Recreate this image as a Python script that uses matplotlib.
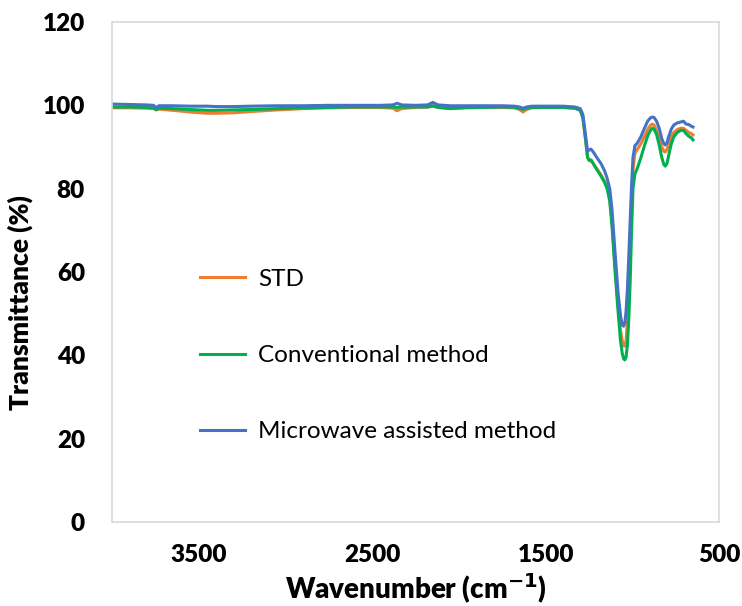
import matplotlib.pyplot as plt

# wavenumber (cm-1) and transmittance (%)
wavenumber = [4000, 3900, 3800, 3760, 3746, 3730, 3650, 3550, 3450, 3400,
              3300, 3200, 3050, 2900, 2750, 2600, 2450, 2380, 2357, 2330,
              2250, 2180, 2150, 2120, 2050, 1950, 1850, 1750, 1680, 1650,
              1630, 1610, 1580, 1500, 1400, 1330, 1300, 1285, 1270, 1258,
              1248, 1238, 1225, 1205, 1180, 1160, 1145, 1130, 1117, 1100,
              1082, 1068, 1058, 1050, 1043, 1036, 1028, 1020, 1012, 1004,
              996, 985, 970, 950, 930, 910, 895, 885, 875, 860,
              845, 830, 818, 810, 800, 790, 775, 760, 740, 720,
              705, 690, 675, 660, 650]

std = [99.4, 99.4, 99.3, 99.2, 99.0, 99.1, 98.8, 98.4, 98.1, 98.1,
       98.2, 98.5, 98.9, 99.2, 99.4, 99.5, 99.5, 99.3, 98.7, 99.2,
       99.5, 99.6, 99.8, 99.5, 99.3, 99.4, 99.5, 99.5, 99.4, 99.0,
       98.4, 99.0, 99.4, 99.5, 99.5, 99.3, 98.8, 97.0, 92.0, 87.5,
       86.7, 86.8, 86.0, 84.8, 83.3, 81.8, 80.3, 77.5, 72.0, 62.0,
       52.0, 46.0, 43.5, 42.3, 42.2, 43.5, 48.0, 56.0, 66.0, 76.0,
       84.5, 88.5, 89.5, 90.8, 92.5, 94.3, 95.2, 95.5, 95.3, 94.0,
       92.0, 90.0, 89.0, 88.8, 89.4, 90.8, 92.5, 93.5, 94.2, 94.5,
       94.5, 94.0, 93.5, 93.2, 92.9]

conventional = [99.6, 99.6, 99.5, 99.4, 98.9, 99.3, 99.2, 99.0, 98.8, 98.8,
                98.9, 99.0, 99.2, 99.4, 99.5, 99.6, 99.6, 99.6, 99.5, 99.6,
                99.6, 99.6, 99.9, 99.5, 99.2, 99.5, 99.5, 99.6, 99.5, 99.3,
                99.0, 99.3, 99.5, 99.5, 99.5, 99.3, 98.8, 97.0, 92.0, 87.5,
                86.8, 86.9, 86.0, 84.6, 83.0, 81.5, 80.0, 77.0, 71.0, 60.5,
                50.5, 43.5, 40.5, 39.2, 38.9, 39.5, 42.5, 49.0, 58.0, 70.0,
                80.0, 83.5, 85.0, 87.5, 90.3, 92.8, 94.0, 94.5, 94.3, 93.0,
                90.5, 87.5, 85.8, 85.4, 86.0, 88.0, 90.8, 92.5, 93.5, 94.0,
                94.0, 93.2, 92.6, 92.2, 91.7]

microwave = [100.3, 100.2, 100.1, 100.0, 99.4, 99.9, 99.9, 99.8, 99.8, 99.7,
             99.7, 99.8, 99.9, 99.9, 100.0, 100.0, 100.0, 100.1, 100.5, 100.1,
             100.0, 100.1, 100.7, 100.1, 99.9, 99.9, 99.9, 99.9, 99.8, 99.6,
             99.3, 99.6, 99.8, 99.8, 99.8, 99.6, 99.2, 97.8, 93.0, 89.0,
             89.3, 89.5, 88.8, 87.5, 86.0, 84.3, 82.5, 80.0, 75.0, 65.0,
             55.0, 49.5, 47.3, 47.0, 47.8, 50.5, 56.0, 64.0, 72.5, 81.0,
             87.5, 90.3, 91.0, 92.5, 94.5, 96.3, 97.0, 97.2, 97.1, 96.2,
             94.5, 92.0, 90.8, 90.5, 91.0, 92.5, 94.3, 95.3, 95.8, 96.0,
             96.2, 95.5, 95.4, 95.0, 94.8]

labels = ['STD', 'Conventional method', 'Microwave assisted method']
colors = ['#ED7D31', '#00B050', '#4472C4']

plt.rcParams['font.family'] = ['Lato', 'DejaVu Sans']

fig = plt.figure(figsize=(7.42, 6.06), dpi=100)
ax = fig.add_axes([0.151, 0.1386, 0.818, 0.8251])

for y, lab, c in zip([std, conventional, microwave], labels, colors):
    ax.plot(wavenumber, y, color=c, linewidth=2.2, label=lab)

ax.set_xlim(4000, 500)
ax.set_ylim(0, 120)
ax.set_xticks([3500, 2500, 1500, 500])
ax.set_yticks(range(0, 121, 20))
ax.tick_params(length=0, labelsize=17.5)
ax.tick_params(axis='x', pad=16)
ax.tick_params(axis='y', pad=19.5)
for t in ax.get_xticklabels() + ax.get_yticklabels():
    t.set_fontweight('heavy')

for s in ax.spines.values():
    s.set_color('#d9d9d9')
    s.set_linewidth(1.2)

ax.set_xlabel('Wavenumber (cm$^{\\mathbf{-1}}$)', fontsize=20, fontweight='heavy', labelpad=4)
ax.set_ylabel('Transmittance (%)', fontsize=19, fontweight='heavy')
ax.yaxis.set_label_coords(-0.13, 0.438)

ax.legend(loc='upper left', bbox_to_anchor=(0.109, 0.55), frameon=False,
          fontsize=17.5, handlelength=1.85, handletextpad=0.55, labelspacing=2.27)

plt.savefig('out.png')
